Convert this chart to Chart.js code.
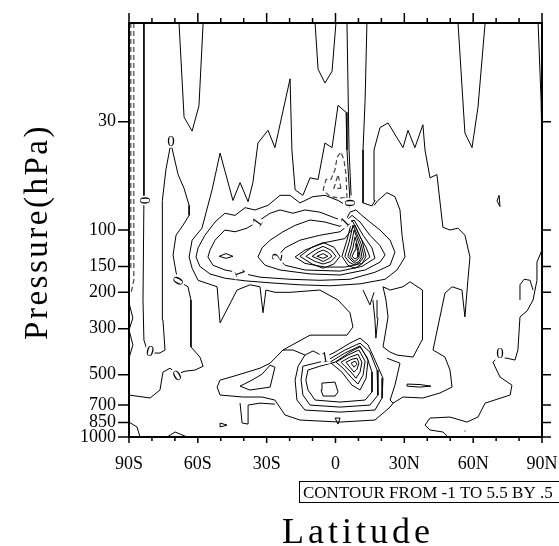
<!DOCTYPE html>
<html>
<head>
<meta charset="utf-8">
<script src="https://cdn.jsdelivr.net/npm/chart.js@4.4.0/dist/chart.umd.min.js"></script>
<style>
  html, body { margin: 0; padding: 0; background: #fff; }
  canvas { display: block; }
</style>
</head>
<body>
<canvas id="chart" width="559" height="546"></canvas>
<script>
// Оси
const xTickValues = [-90, -60, -30, 0, 30, 60, 90];
const xTickLabels = ['90S', '60S', '30S', '0', '30N', '60N', '90N'];
const xMinorTicks = [-80, -70, -50, -40, -20, -10, 10, 20, 40, 50, 70, 80];
const yTickValues = [30, 100, 150, 200, 300, 500, 700, 850, 1000];
const yTickLabels = ['30', '100', '150', '200', '300', '500', '700', '850', '1000'];

// Контуры: пары [широта, давление гПа]
// полярная область ЮП
const polarDashA = [[-89.2, 10], [-89.2, 156]];
const polarDashB = [[-87.9, 10], [-87.9, 175], [-89.1, 202]];
const polarZigzag = [[-90, 225], [-88.3, 266], [-90, 304], [-88.3, 359], [-90, 416]];
const polarLoop = [[-83.5, 10], [-83.5, 72], [-83.9, 218], [-83.5, 340], [-82.1, 380], [-79.5, 393], [-76.5, 393],
  [-74.3, 380], [-75.2, 272], [-75.6, 188], [-75.6, 125], [-75.2, 72], [-73.9, 51], [-72.1, 40], [-71.7, 37]];
const polarBranch = [[-71.7, 37], [-71.3, 40], [-68.6, 54], [-66.0, 63], [-63.8, 76], [-63.8, 85], [-66.5, 95],
  [-69.5, 106], [-70.8, 132], [-69.5, 160], [-68.6, 176], [-64.3, 188], [-63.0, 218], [-63.0, 367], [-59.1, 411],
  [-57.7, 455], [-61.2, 475], [-65.6, 481], [-69.1, 497], [-72.1, 465], [-75.2, 486], [-76.5, 593], [-80.8, 648], [-90, 627]];
const polarCorner = [[-90, 847], [-86.5, 895], [-85.2, 1000]];
const polarHump = [[-73.4, 1000], [-69.9, 946], [-64.7, 1000]];

// верхние языки от 10 гПа
const topTongueA = [[-68.2, 10], [-66.0, 28.5], [-62.5, 33.3], [-59.5, 25.1], [-57.7, 10]];
const topTongueB = [[-8.9, 10], [-7.6, 16.7], [-4.6, 19.5], [-1.5, 17.1], [0.2, 10]];
const topLineC = [[5.0, 10], [5.9, 41], [6.8, 68]];
const topTongueD = [[53.4, 10], [56.4, 34], [59.5, 40], [62.1, 25.5], [65.2, 10]];
const edgeLineN = [[88.3, 10], [89.6, 23.6], [90, 41]];

// нулевая изолиния вокруг струйного течения
const jetZero = [[-59.9, 175], [-62.5, 153], [-63.8, 135], [-62.5, 112], [-58.2, 98], [-53.8, 64], [-50.3, 42.5],
  [-44.7, 72], [-41.6, 59], [-38.1, 73], [-36.0, 59], [-33.8, 38], [-29.4, 33], [-26.4, 40], [-19.8, 18.6],
  [-19.0, 41], [-17.6, 64], [-14.2, 68], [-11.1, 56], [-7.6, 57], [-4.6, 38], [-1.5, 40], [1.1, 25], [4.6, 27],
  [5.0, 41], [6.3, 72]];
const northZero = [[13.7, 10], [12.9, 23.6], [12.0, 41], [12.0, 74], [15.9, 76.5], [17.2, 72], [16.8, 41], [19.4, 32],
  [22.9, 30.4], [29.4, 40], [31.6, 33], [34.6, 40], [38.1, 31], [39.0, 41], [41.2, 56], [44.2, 54], [46.8, 97],
  [49.9, 100], [53.4, 98], [56.4, 106], [58.6, 135], [57.7, 175], [56.4, 263], [55.1, 195], [50.8, 188], [47.7, 202],
  [42.5, 380], [47.7, 411], [49.9, 475], [50.8, 574], [45.5, 613], [38.1, 648], [29.4, 641], [25.1, 686], [23.8, 717]];
const lowerZero = [[-59.9, 175], [-51.6, 188], [-50.3, 281], [-42.9, 195], [-37.3, 184], [-32.9, 188], [-31.6, 251],
  [-30.3, 195], [-26.4, 200], [-19.8, 200], [-6.8, 195], [1.1, 218], [6.3, 251], [7.6, 294], [5.0, 322], [-11.1, 322],
  [-22.9, 380], [-28.5, 440], [-32.9, 465], [-42.9, 503], [-50.3, 531], [-51.6, 574], [-50.3, 627], [-40.3, 641],
  [-32.0, 641], [-26.4, 663], [-22.0, 783], [-15.5, 828], [2.0, 847], [17.2, 828], [23.8, 717]];

// струйное течение ~150 гПа
const jetC05 = [[16.8, 76], [18.5, 72], [22.4, 66], [25.9, 69], [28.1, 80], [29.0, 106], [30.3, 135], [26.8, 156],
  [21.6, 173], [10.7, 182], [-2.4, 186], [-15.5, 184], [-28.5, 180], [-39.4, 176], [-48.2, 171], [-54.7, 163],
  [-59.1, 150], [-60.8, 135], [-59.9, 122], [-56.9, 106], [-52.5, 91.5], [-48.2, 83], [-43.8, 85], [-39.4, 78],
  [-35.1, 80], [-29.4, 76], [-24.2, 68], [-19.8, 68], [-15.5, 74], [-9.8, 69], [-4.6, 68], [1.1, 72], [6.3, 78]];
const jetC1 = [[8.9, 80], [6.3, 82], [4.1, 91.5], [-0.2, 87.5], [-6.8, 82], [-13.3, 80], [-18.5, 83], [-24.2, 80],
  [-28.5, 83], [-34.2, 91.5], [-38.6, 98], [-43.8, 102], [-48.2, 100], [-52.5, 112], [-54.7, 125], [-55.6, 135],
  [-53.4, 148], [-48.2, 156], [-41.6, 161], [-32.9, 169], [-19.8, 173], [-6.8, 175], [6.3, 173], [17.2, 160],
  [23.8, 148], [25.9, 128], [23.8, 112], [19.4, 100], [15.0, 91.5], [11.5, 85], [8.9, 80]];
const jetLens = [[-50.7, 134], [-47.7, 130], [-44.7, 134], [-47.7, 137], [-50.7, 134]];
const jetC15 = [[7.2, 85], [2.0, 96], [-4.6, 91.5], [-11.1, 89.5], [-17.6, 95], [-22.9, 102], [-28.5, 112], [-32.0, 122],
  [-33.8, 135], [-30.7, 148], [-24.2, 156], [-11.1, 163], [2.0, 165], [12.9, 156], [19.4, 143], [21.6, 132],
  [19.4, 119], [15.0, 106], [10.7, 91.5], [7.2, 85]];
const jetC2 = [[8.1, 89.5], [2.0, 102], [-6.8, 106], [-15.5, 112], [-22.0, 122], [-25.5, 135], [-22.0, 148], [-13.3, 156],
  [2.0, 158], [11.5, 150], [17.2, 137], [15.9, 122], [12.0, 106], [8.1, 89.5]];
const jetC25 = [[8.5, 94.7], [4.1, 110], [-4.6, 115], [-13.3, 125], [-17.6, 135], [-13.3, 145], [-4.6, 151], [4.1, 151],
  [11.5, 145], [15.0, 135], [13.3, 121], [10.7, 108], [8.5, 94.7]];
const jetWest3 = [[-15.5, 134], [-10.2, 121], [-5.4, 115], [-0.7, 121], [2.0, 134], [-0.7, 146], [-5.4, 153], [-10.2, 146], [-15.5, 134]];
const jetWest35 = [[-12.9, 134], [-8.9, 125], [-5.4, 120], [-2.0, 125], [0.2, 134], [-2.0, 142], [-5.4, 146], [-8.9, 142], [-12.9, 134]];
const jetWest4 = [[-10.2, 134], [-7.6, 128], [-5.4, 125], [-3.3, 128], [-1.5, 134], [-3.3, 138], [-5.4, 142], [-7.6, 138], [-10.2, 134]];
const jetWest45 = [[-8.1, 134], [-5.4, 130], [-3.3, 134], [-5.4, 137], [-8.1, 134]];
const jetEast3 = [[2.8, 134], [5.0, 112], [7.2, 89.5], [11.5, 112], [13.3, 134], [11.5, 146], [8.5, 153], [5.4, 148], [2.8, 134]];
const jetEast35 = [[4.1, 134], [5.9, 115], [7.6, 94.7], [11.1, 116], [12.4, 134], [10.7, 143], [8.5, 148], [5.9, 143], [4.1, 134]];
const jetEast4 = [[5.4, 134], [6.8, 119], [8.1, 100], [10.7, 120], [11.5, 134], [10.2, 142], [8.5, 145], [6.8, 140], [5.4, 134]];
const jetEast45 = [[6.3, 134], [7.6, 122], [8.5, 108], [10.2, 125], [10.7, 134], [9.8, 138], [8.5, 142], [7.2, 138], [6.3, 134]];
const jetEast5 = [[7.2, 134], [8.5, 125], [8.9, 116], [9.8, 128], [9.8, 135], [8.5, 138], [7.2, 134]];
const jetNegA = [[5.0, 70], [4.6, 54], [3.7, 46], [2.4, 42], [0.7, 44.5], [-0.2, 51], [-2.0, 57], [-4.1, 57], [-5.4, 64],
  [-2.4, 69], [2.0, 70], [5.0, 70]];
const jetNegB = [[2.4, 63], [1.1, 54], [-0.7, 63], [2.4, 63]];

// тропики ~500 гПа
const lowC1 = [[-22.9, 380], [-18.5, 380], [-13.3, 402], [-9.8, 384], [-4.6, 411], [-0.2, 389], [6.3, 352], [10.7, 333],
  [14.2, 359], [17.2, 425], [20.7, 520], [20.3, 648], [17.2, 741], [2.0, 758], [-13.3, 741], [-16.8, 663],
  [-17.6, 531], [-16.3, 455], [-13.3, 402]];
const lowC15 = [[-14.2, 455], [-8.9, 440], [-3.3, 425], [4.1, 380], [10.7, 352], [15.0, 389], [18.1, 475], [18.5, 627],
  [15.0, 701], [2.0, 717], [-11.1, 701], [-14.2, 627], [-15.0, 531], [-14.2, 455]];
const lowC2 = [[-12.0, 475], [-6.8, 455], [-0.2, 435], [6.3, 389], [10.7, 367], [13.7, 411], [15.9, 486], [15.9, 606],
  [12.9, 663], [2.0, 678], [-8.9, 663], [-12.0, 593], [-12.9, 531], [-12.0, 475]];
const lowOval = [[-5.9, 549], [-0.2, 543], [1.1, 606], [-0.2, 634], [-5.4, 634], [-6.3, 593], [-5.9, 549]];
const lowC25 = [[-2.4, 435], [4.1, 393], [10.7, 363], [14.2, 425], [13.3, 520], [10.7, 593], [7.2, 562], [2.8, 486], [-2.4, 435]];
const lowC3 = [[0.2, 435], [5.4, 402], [10.2, 380], [12.9, 430], [12.0, 503], [9.8, 555], [7.2, 520], [3.3, 465], [0.2, 435]];
const lowC35 = [[2.4, 435], [6.3, 411], [9.8, 398], [11.5, 435], [10.7, 486], [8.9, 520], [6.8, 486], [4.1, 455], [2.4, 435]];
const lowC4 = [[4.6, 435], [7.2, 421], [9.4, 416], [10.2, 440], [9.4, 470], [8.1, 486], [6.3, 460], [4.6, 435]];
const lowC45 = [[6.8, 440], [8.5, 430], [9.4, 445], [8.1, 460], [6.8, 440]];
const southTongue = [[-41.6, 568], [-36.4, 531], [-32.0, 497], [-28.5, 450], [-26.4, 460], [-28.5, 574], [-37.3, 593], [-41.6, 568]];
const southBox = [[-41.6, 686], [-40.7, 856], [-38.1, 866], [-38.1, 701], [-32.9, 686], [-26.4, 694]];
const southSpeck = [[-50.3, 856], [-47.3, 876], [-50.3, 895], [-50.3, 856]];
const equatorSpeck = [[-0.2, 810], [2.0, 810], [1.1, 866], [-0.2, 810]];

// субтропики и высокие широты СП
const subtropLoop = [[20.7, 188], [22.0, 218], [22.9, 263], [21.6, 322], [20.7, 367], [23.8, 389], [26.8, 402], [33.8, 411],
  [37.7, 340], [38.1, 243], [37.7, 195], [32.5, 178], [29.4, 188], [23.8, 195], [20.7, 188]];
const subtropLens = [[16.3, 218], [17.2, 272], [17.6, 333], [18.5, 266], [18.1, 218]];
const subtropVee = [[12.0, 195], [15.0, 230], [16.8, 200]];
const subtropLow = [[22.4, 416], [28.1, 440], [25.9, 562], [23.8, 663], [25.1, 686]];
const midLatSliver = [[31.2, 555], [36.8, 558], [41.6, 568], [36.8, 574], [31.2, 568], [31.2, 555]];
const northLow = [[49.0, 1000], [46.8, 946], [41.2, 925], [39.0, 876], [41.2, 810], [49.9, 801], [57.3, 847], [62.1, 801],
  [65.2, 686], [76.1, 627], [76.9, 562], [71.7, 513], [68.6, 435], [70.4, 416], [74.7, 416], [78.2, 425], [79.5, 380],
  [80.4, 263], [83.5, 246], [86.1, 218], [87.8, 175], [87.8, 143], [90, 125]];
const northPocket = [[80.4, 218], [80.4, 184], [82.2, 173], [84.8, 175], [86.1, 195]];
const northLens = [[71.3, 68], [70.4, 72.4], [71.7, 77], [71.3, 68]];
const northDot = [[56.2, 936], [56.6, 936]];

const solidLines = [polarZigzag, polarLoop, polarBranch, polarCorner, polarHump, topTongueA, topTongueB, topLineC,
  topTongueD, edgeLineN, jetZero, northZero, lowerZero, jetC05, jetC1, jetLens, jetC15, jetC2, jetC25, jetWest3,
  jetWest35, jetWest4, jetWest45, jetEast3, jetEast35, jetEast4, jetEast45, jetEast5, lowC1, lowC15, lowC2, lowOval,
  lowC25, lowC3, lowC35, lowC4, lowC45, southTongue, southBox, southSpeck, equatorSpeck, subtropLoop, subtropLens,
  subtropVee, subtropLow, midLatSliver, northLow, northPocket, northLens, northDot];
const dashedLines = [polarDashA, polarDashB, jetNegA, jetNegB];

// Подписи изолиний
const labelLat = [-71.7, -83.0, -80.8, -68.6, -69.1, 6.3, -34.2, -41.6, -25.5, 4.1, -4.6, 71.7];
const labelP = [37, 72, 384, 176, 503, 74, 91.5, 161, 135, 91.5, 411, 393];
const labelText = ['0', '0', '0', '0', '0', '0', '1', '1', '2', '1', '1', '0'];
const labelAngle = [0, 90, 15, -60, -30, 90, -55, 70, -80, -45, -10, 0];

const SERIF = '"Liberation Serif", "DejaVu Serif", serif';

function toPoints(line) {
  return line.map(p => ({ x: p[0], y: p[1] }));
}

const datasets = [];
solidLines.forEach(line => {
  datasets.push({ data: toPoints(line), borderColor: '#000', borderWidth: 1, showLine: true,
    pointRadius: 0, tension: 0, fill: false });
});
dashedLines.forEach(line => {
  datasets.push({ data: toPoints(line), borderColor: '#444', borderWidth: 1.2, borderDash: [5, 3], showLine: true,
    pointRadius: 0, tension: 0, fill: false });
});

// Рамка, засечки, подписи изолиний и заголовки
const decorPlugin = {
  id: 'decor',
  afterDatasetsDraw(chart) {
    const { ctx, chartArea: a, scales: { x, y } } = chart;
    ctx.save();
    ctx.font = '15px ' + SERIF;
    ctx.textAlign = 'center';
    ctx.textBaseline = 'middle';
    for (let i = 0; i < labelText.length; i++) {
      const px = x.getPixelForValue(labelLat[i]);
      const py = y.getPixelForValue(labelP[i]);
      ctx.save();
      ctx.translate(px, py);
      ctx.rotate(labelAngle[i] * Math.PI / 180);
      const w = ctx.measureText(labelText[i]).width;
      ctx.fillStyle = '#fff';
      ctx.fillRect(-w / 2 - 1, -7, w + 2, 14);
      ctx.fillStyle = '#000';
      ctx.fillText(labelText[i], 0, 1);
      ctx.restore();
    }

    ctx.strokeStyle = '#000';
    ctx.lineWidth = 2;
    ctx.strokeRect(a.left, a.top, a.right - a.left, a.bottom - a.top);

    ctx.lineWidth = 1.5;
    ctx.beginPath();
    xTickValues.forEach(v => {
      const px = x.getPixelForValue(v);
      ctx.moveTo(px, a.top); ctx.lineTo(px, a.top - 10);
      ctx.moveTo(px, a.bottom); ctx.lineTo(px, a.bottom + 6);
    });
    xMinorTicks.forEach(v => {
      const px = x.getPixelForValue(v);
      ctx.moveTo(px, a.top); ctx.lineTo(px, a.top - 5);
      ctx.moveTo(px, a.bottom); ctx.lineTo(px, a.bottom + 4);
    });
    yTickValues.forEach(v => {
      const py = y.getPixelForValue(v);
      ctx.moveTo(a.left, py); ctx.lineTo(a.left - 11, py);
      ctx.moveTo(a.right, py); ctx.lineTo(a.right + 9, py);
    });
    ctx.stroke();
    ctx.restore();
  },
  afterDraw(chart) {
    const { ctx } = chart;
    ctx.save();
    ctx.fillStyle = '#000';
    ctx.textAlign = 'center';
    ctx.textBaseline = 'alphabetic';

    ctx.font = '36px ' + SERIF;
    ctx.letterSpacing = '4px';
    ctx.fillText('Latitude', 358, 543);

    ctx.save();
    ctx.translate(47, 232);
    ctx.rotate(-Math.PI / 2);
    ctx.font = '33px ' + SERIF;
    ctx.letterSpacing = '2.5px';
    ctx.fillText('Pressure(hPa)', 0, 0);
    ctx.restore();

    ctx.letterSpacing = '0px';
    ctx.strokeStyle = '#000';
    ctx.lineWidth = 1;
    ctx.strokeRect(299.5, 481.5, 270, 21);
    ctx.font = '17px ' + SERIF;
    ctx.textAlign = 'left';
    ctx.fillText('CONTOUR FROM -1 TO 5.5 BY .5', 303, 498);
    ctx.restore();
  }
};

new Chart(document.getElementById('chart'), {
  type: 'scatter',
  data: { datasets },
  options: {
    responsive: false,
    animation: false,
    devicePixelRatio: 1,
    layout: { padding: { top: 23, right: 17, left: 0, bottom: 0 } },
    plugins: { legend: { display: false }, tooltip: { enabled: false } },
    scales: {
      x: {
        type: 'linear',
        position: 'bottom',
        min: -90,
        max: 90,
        grid: { display: false, drawTicks: false },
        border: { display: false },
        afterBuildTicks: scale => { scale.ticks = xTickValues.map(v => ({ value: v })); },
        afterFit: scale => { scale.height = 109; scale.paddingLeft = 0; scale.paddingRight = 0; },
        ticks: {
          autoSkip: false,
          maxRotation: 0,
          padding: 16,
          color: '#000',
          font: { family: SERIF, size: 18 },
          callback: (value, index) => xTickLabels[index]
        }
      },
      y: {
        type: 'logarithmic',
        min: 10,
        max: 1000,
        reverse: true,
        grid: { display: false, drawTicks: false },
        border: { display: false },
        afterBuildTicks: scale => { scale.ticks = yTickValues.map(v => ({ value: v })); },
        afterFit: scale => { scale.width = 129; scale.paddingTop = 0; scale.paddingBottom = 0; },
        ticks: {
          autoSkip: false,
          padding: 13,
          color: '#000',
          font: { family: SERIF, size: 18 },
          callback: (value, index) => yTickLabels[index]
        }
      }
    }
  },
  plugins: [decorPlugin]
});
</script>
</body>
</html>
